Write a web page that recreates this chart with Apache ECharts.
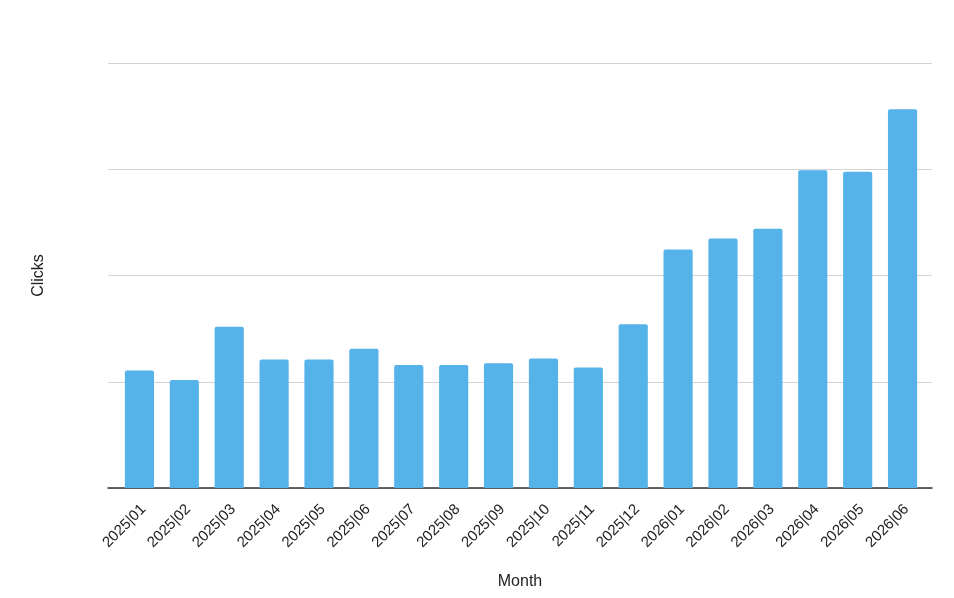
<!DOCTYPE html>
<html>
<head>
<meta charset="utf-8">
<script src="https://cdn.jsdelivr.net/npm/echarts@6/dist/echarts.min.js"></script>
<style>
  html, body { margin: 0; padding: 0; background: #fff; }
  #chart { width: 954px; height: 598px; }
</style>
</head>
<body>
<div id="chart"></div>
<script>
var months = ['2025|01', '2025|02', '2025|03', '2025|04', '2025|05', '2025|06',
    '2025|07', '2025|08', '2025|09', '2025|10', '2025|11', '2025|12',
    '2026|01', '2026|02', '2026|03', '2026|04', '2026|05', '2026|06'];
var clicks = [110.7, 101.7, 151.8, 121, 121, 131.1,
    115.8, 115.8, 117.3, 122, 113.3, 154.1,
    224.4, 234.8, 243.9, 299.1, 297.7, 356.4];

var font = 'Liberation Sans, Arial, sans-serif';
var myChart = echarts.init(document.getElementById('chart'));
myChart.setOption({
    animation: false,
    textStyle: { fontFamily: font },
    // 0: frame with gridlines and baseline, 1: bars, 2: tick labels
    grid: [
        { left: 108, right: 22, top: 63, bottom: 110 },
        { left: 117, right: 29, top: 63, bottom: 110 },
        { left: 121, right: 25, top: 63, bottom: 110 }
    ],
    xAxis: [{
        gridIndex: 0,
        type: 'category',
        data: months,
        name: 'Month',
        nameLocation: 'middle',
        nameGap: 86,
        nameTextStyle: { color: '#222', fontSize: 16 },
        axisLine: { lineStyle: { color: '#333', width: 1.5 } },
        axisTick: { show: false },
        axisLabel: { show: false }
    }, {
        gridIndex: 1,
        type: 'category',
        data: months,
        axisLine: { show: false },
        axisTick: { show: false },
        axisLabel: { show: false }
    }, {
        gridIndex: 2,
        type: 'category',
        data: months,
        axisLine: { show: false },
        axisTick: { show: false },
        axisLabel: { rotate: 45, color: '#222', fontSize: 15, interval: 0, margin: 19 }
    }],
    yAxis: [{
        gridIndex: 0,
        type: 'value',
        min: 0,
        max: 400,
        interval: 100,
        name: 'Clicks',
        nameLocation: 'middle',
        nameGap: 61,
        nameTextStyle: { color: '#222', fontSize: 16 },
        axisLabel: { show: false },
        axisLine: { show: false },
        axisTick: { show: false },
        splitLine: { lineStyle: { color: '#d3d3d3', width: 1 } }
    }, {
        gridIndex: 1,
        type: 'value',
        min: 0,
        max: 400,
        interval: 100,
        show: false
    }, {
        gridIndex: 2,
        type: 'value',
        min: 0,
        max: 400,
        interval: 100,
        show: false
    }],
    series: [{
        name: 'Clicks',
        type: 'bar',
        xAxisIndex: 1,
        yAxisIndex: 1,
        data: clicks,
        barCategoryGap: '35%',
        itemStyle: { color: '#55b3ea', borderRadius: [2, 2, 0, 0] }
    }]
});
</script>
</body>
</html>
